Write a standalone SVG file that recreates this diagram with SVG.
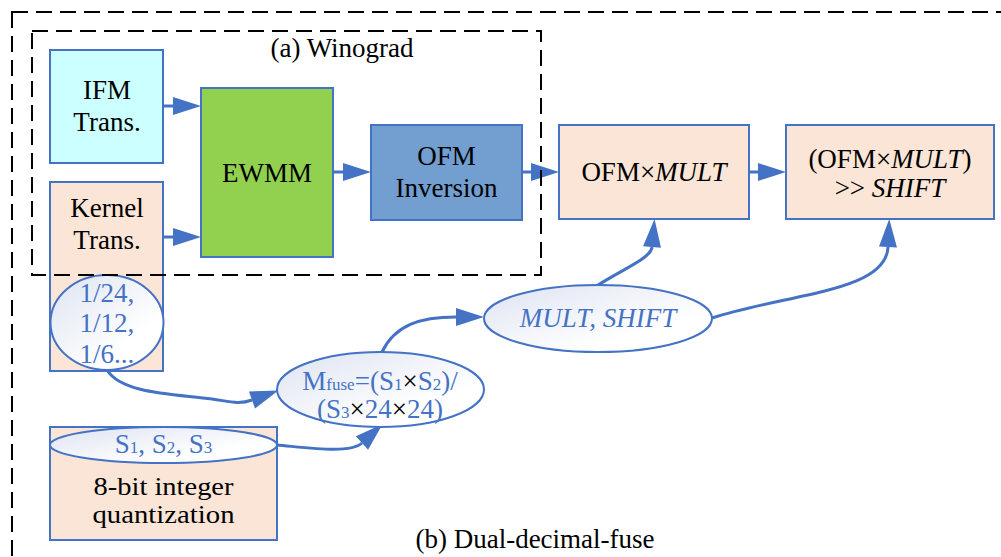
<svg xmlns="http://www.w3.org/2000/svg" width="1001" height="557" viewBox="0 0 1001 557" font-family="'Liberation Serif', 'Times New Roman', serif">
  <style>
    text { font-family: "Liberation Serif", "Times New Roman", serif; font-size: 27px; text-anchor: middle; fill: #000; }
    .box { stroke: #4472c4; stroke-width: 2; }
    .oval { fill: url(#ovalFill); stroke: #4472c4; stroke-width: 2; }
    .blue { fill: #4472c4; }
    .it { font-style: italic; }
    .sub { font-size: 17px; }
    .tight { font-size: 26px; }
    .wire { fill: none; stroke: #4472c4; stroke-width: 3; marker-end: url(#ah); }
    .frame { fill: none; stroke: #000; stroke-width: 2; stroke-dasharray: 16 8; }
  </style>
  <defs>
    <linearGradient id="ovalFill" x1="0" y1="0" x2="1" y2="1">
      <stop offset="0" stop-color="#dde3f1"/>
      <stop offset="0.7" stop-color="#ffffff"/>
    </linearGradient>
    <marker id="ah" markerUnits="userSpaceOnUse" markerWidth="28" markerHeight="18" refX="0" refY="9" orient="auto" overflow="visible">
      <path d="M0,0 L28,9 L0,18 z" fill="#4472c4"/>
    </marker>
  </defs>

  <rect width="1001" height="557" fill="#fff"/>

  <!-- connectors (drawn under the nodes) -->
  <g id="connectors">
    <path class="wire" d="M163,106 L173,106"/>
    <path class="wire" d="M163,237 L173,237"/>
    <path class="wire" d="M333,172 L343,172"/>
    <path class="wire" d="M522,172 L531,172"/>
    <path class="wire" d="M749,172 L758,172"/>
    <path class="wire" d="M598,285 C625,268 651,258 652,247"/>
    <path class="wire" d="M712,318 C790,293 886,292 888,247"/>
    <path class="wire" d="M107,370 C122,394 175,394 212,399 C228,401 238,405 252,400"/>
    <path class="wire" d="M277,445 C310,448 350,454 362,443"/>
    <path class="wire" d="M382,352 C395,325 420,317 456,317"/>
  </g>

  <g id="ifm-trans">
    <rect class="box" x="50" y="50" width="113" height="113" fill="#ccffff"/>
    <text x="107" y="99">IFM</text>
    <text x="107" y="131">Trans.</text>
  </g>

  <g id="kernel-trans">
    <rect class="box" x="50" y="182" width="113" height="189" fill="#fbe5d6"/>
    <text x="107" y="217">Kernel</text>
    <text x="107" y="249">Trans.</text>
  </g>

  <g id="ewmm">
    <rect class="box" x="201" y="88" width="132" height="169" fill="#92d050"/>
    <text x="267" y="182">EWMM</text>
  </g>

  <g id="ofm-inversion">
    <rect class="box" x="371" y="125" width="151" height="95" fill="#729fcf"/>
    <text x="446.5" y="165">OFM</text>
    <text x="446.5" y="197">Inversion</text>
  </g>

  <g id="ofm-mult">
    <rect class="box" x="559" y="125" width="190" height="94" fill="#fbe5d6"/>
    <text x="654" y="181">OFM×<tspan class="it">MULT</tspan></text>
  </g>

  <g id="ofm-shift">
    <rect class="box" x="786" y="125" width="208" height="94" fill="#fbe5d6"/>
    <text x="890" y="168">(OFM×<tspan class="it">MULT</tspan>)</text>
    <text x="890" y="197">&gt;&gt; <tspan class="it">SHIFT</tspan></text>
  </g>

  <g id="int8-quant">
    <rect class="box" x="50" y="427" width="227" height="113" fill="#fbe5d6"/>
    <text class="tight" x="163.5" y="495" textLength="140" lengthAdjust="spacingAndGlyphs">8-bit integer</text>
    <text class="tight" x="163.5" y="523" textLength="142" lengthAdjust="spacingAndGlyphs">quantization</text>
  </g>

  <g id="scales">
    <ellipse class="oval" cx="163.5" cy="445" rx="113.5" ry="18"/>
    <text class="blue" x="163.5" y="453">S<tspan class="sub">1</tspan>, S<tspan class="sub">2</tspan>, S<tspan class="sub">3</tspan></text>
  </g>

  <g id="fractions">
    <ellipse class="oval" cx="107" cy="322.5" rx="56.5" ry="47.5"/>
    <text class="blue" x="107" y="302">1/24,</text>
    <text class="blue" x="107" y="332">1/12,</text>
    <text class="blue" x="107" y="363">1/6...</text>
  </g>

  <g id="m-fuse">
    <ellipse class="oval" cx="380.5" cy="389.5" rx="103.5" ry="37.5"/>
    <text class="blue" x="380" y="390">M<tspan class="sub">fuse</tspan>=(S<tspan class="sub">1</tspan><tspan fill="#000">×</tspan>S<tspan class="sub">2</tspan>)/</text>
    <text class="blue" x="380" y="418">(S<tspan class="sub">3</tspan><tspan fill="#000">×</tspan>24<tspan fill="#000">×</tspan>24)</text>
  </g>

  <g id="mult-shift">
    <ellipse class="oval" cx="598" cy="318.5" rx="114" ry="33.5"/>
    <text class="blue it" x="598" y="327">MULT, SHIFT</text>
  </g>

  <!-- dashed grouping frames, drawn on top -->
  <g id="frames">
    <rect class="frame" x="12" y="12" width="1010" height="570"/>
    <rect class="frame" x="32" y="31" width="509" height="244"/>
    <text x="342" y="57">(a) Winograd</text>
    <text x="535" y="548">(b) Dual-decimal-fuse</text>
  </g>
</svg>
